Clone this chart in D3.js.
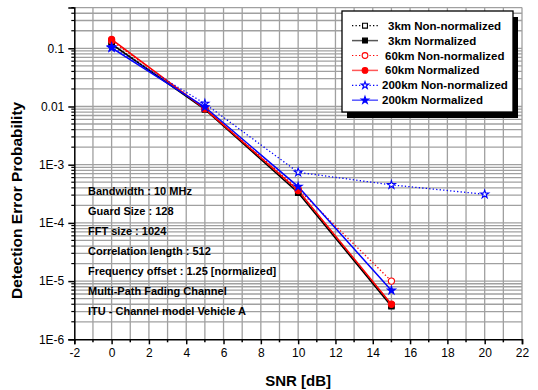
<!DOCTYPE html>
<html>
<head>
<meta charset="utf-8">
<script src="https://cdn.jsdelivr.net/npm/d3@7/dist/d3.min.js"></script>
<style>
  html, body { margin: 0; padding: 0; background: #fff; }
  svg { display: block; font-family: "Liberation Sans", Arial, sans-serif; }
</style>
</head>
<body>
<svg id="chart" width="538" height="390"></svg>
<script>
// SNR points (dB) for each simulated case
const snr = [0, 5, 10, 15];
const snr200NN = [0, 5, 10, 15, 20];

// Detection error probability per case
const km3NonNorm   = [0.12, 0.0092, 3.5e-4, 3.8e-6];
const km3Norm      = [0.118, 0.0089, 3.3e-4, 3.7e-6];
const km60NonNorm  = [0.135, 0.0093, 3.8e-4, 1.0e-5];
const km60Norm     = [0.142, 0.0091, 3.6e-4, 4.0e-6];
const km200NonNorm = [0.105, 0.0112, 7.4e-4, 4.5e-4, 3.1e-4];
const km200Norm    = [0.102, 0.0098, 4.2e-4, 6.9e-6];

const seriesNames = [
  "3km Non-normalized", "3km Normalized",
  "60km Non-normalized", "60km Normalized",
  "200km Non-normalized", "200km Normalized"
];

const xTicks = [-2, 0, 2, 4, 6, 8, 10, 12, 14, 16, 18, 20, 22];
const yTicks = [1e-6, 1e-5, 1e-4, 1e-3, 0.01, 0.1];
const yTickLabels = ["1E-6", "1E-5", "1E-4", "1E-3", "0.01", "0.1"];

const notes = [
  "Bandwidth : 10 MHz",
  "Guard Size : 128",
  "FFT size : 1024",
  "Correlation length : 512",
  "Frequency offset : 1.25 [normalized]",
  "Multi-Path Fading Channel",
  "ITU - Channel model Vehicle A"
];

const series = [
  { name: seriesNames[0], x: snr, y: km3NonNorm, color: "#000", dotted: true,  shape: d3.symbolSquare, filled: false },
  { name: seriesNames[1], x: snr, y: km3Norm,    color: "#000", dotted: false, shape: d3.symbolSquare, filled: true },
  { name: seriesNames[2], x: snr, y: km60NonNorm, color: "#ff0000", dotted: true,  shape: d3.symbolCircle, filled: false },
  { name: seriesNames[3], x: snr, y: km60Norm,    color: "#ff0000", dotted: false, shape: d3.symbolCircle, filled: true },
  { name: seriesNames[4], x: snr200NN, y: km200NonNorm, color: "#0000ff", dotted: true,  shape: d3.symbolStar, filled: false },
  { name: seriesNames[5], x: snr, y: km200Norm,    color: "#0000ff", dotted: false, shape: d3.symbolStar, filled: true }
];

const svg = d3.select("#chart");
const plotL = 74.3, plotR = 522, plotT = 7.6, plotB = 339.3;

const x = d3.scaleLinear().domain([-2, 22]).range([plotL, plotR]);
const y = d3.scaleLog().domain([1e-6, 0.5]).range([plotB, plotT]);

// grid
const gridColor = "#a0a0a0";
const g = svg.append("g");
const xMinor = d3.range(-1, 23, 1);
g.selectAll(".vg").data(xMinor).join("line")
  .attr("x1", d => x(d)).attr("x2", d => x(d))
  .attr("y1", plotT).attr("y2", plotB)
  .attr("stroke", gridColor).attr("stroke-width", 1.3);

const yMinor = [];
for (let e = -6; e <= -1; e++) {
  for (let m = 1; m <= 9; m++) {
    const v = m * Math.pow(10, e);
    if (v <= 0.5 + 1e-12 && v > 1e-6) yMinor.push(v);
  }
}
g.selectAll(".hg").data(yMinor).join("line")
  .attr("x1", plotL).attr("x2", plotR)
  .attr("y1", d => y(d)).attr("y2", d => y(d))
  .attr("stroke", gridColor).attr("stroke-width", 1.3);

// axes
const xAxis = d3.axisBottom(x).tickValues(xTicks).tickSize(5).tickPadding(4)
  .tickFormat(d => String(d));
const xa = svg.append("g").attr("transform", `translate(0,${plotB})`).call(xAxis);
xa.select(".domain").attr("stroke", "#000").attr("stroke-width", 1.5);
xa.selectAll(".tick line").attr("stroke", "#000").attr("stroke-width", 1.5);
xa.selectAll(".tick text").attr("font-size", 12).attr("fill", "#000")
  .attr("font-family", "Liberation Sans, Arial, sans-serif");
const xMinorOnly = xMinor.filter(v => v % 2 !== 0);
xa.selectAll(".mt").data(xMinorOnly).join("line")
  .attr("x1", d => x(d)).attr("x2", d => x(d)).attr("y1", 0).attr("y2", 3)
  .attr("stroke", "#000").attr("stroke-width", 1.5);

const yAxis = d3.axisLeft(y).tickValues(yTicks).tickSize(6).tickPadding(4)
  .tickFormat((d, i) => yTickLabels[i]);
const ya = svg.append("g").attr("transform", `translate(${plotL},0)`).call(yAxis);
ya.select(".domain").attr("stroke", "#000").attr("stroke-width", 1.5);
ya.selectAll(".tick line").attr("stroke", "#000").attr("stroke-width", 1.5);
ya.selectAll(".tick text").attr("font-size", 12).attr("fill", "#000")
  .attr("font-family", "Liberation Sans, Arial, sans-serif");
ya.selectAll(".mt").data(yMinor.filter(v => !yTicks.some(t => Math.abs(t - v) / v < 1e-9))).join("line")
  .attr("x1", 0).attr("x2", -3).attr("y1", d => y(d)).attr("y2", d => y(d))
  .attr("stroke", "#000").attr("stroke-width", 1.2);

// axis titles
svg.append("text").attr("x", (plotL + plotR) / 2).attr("y", 386)
  .attr("text-anchor", "middle").attr("font-size", 15).attr("font-weight", "bold")
  .text("SNR [dB]");
svg.append("text").attr("transform", `translate(22,${(plotT + plotB) / 2 + 27}) rotate(-90)`)
  .attr("text-anchor", "middle").attr("font-size", 15.5).attr("font-weight", "bold")
  .text("Detection Error Probability");

// annotation block
svg.append("g").selectAll("text").data(notes).join("text")
  .attr("x", 88).attr("y", (d, i) => 195 + i * 20)
  .attr("font-size", 11).attr("font-weight", "bold").text(d => d);

// series
const line = d3.line();
const plot = svg.append("g");
series.forEach(s => {
  const pts = s.x.map((v, i) => [x(v), y(s.y[i])]);
  plot.append("path").attr("d", line(pts)).attr("fill", "none")
    .attr("stroke", s.color).attr("stroke-width", s.dotted ? 1.3 : 1.5)
    .attr("stroke-dasharray", s.dotted ? "1.3,2.2" : null);
});
const markerSize = shape => shape === d3.symbolStar ? 20 : shape === d3.symbolCircle ? 30 : 28;
series.forEach(s => {
  const sym = d3.symbol().type(s.shape).size(markerSize(s.shape));
  plot.selectAll(null).data(s.x.map((v, i) => [x(v), y(s.y[i])])).join("path")
    .attr("transform", d => `translate(${d[0]},${d[1]})`)
    .attr("d", sym)
    .attr("fill", s.filled ? s.color : "#fff")
    .attr("stroke", s.color).attr("stroke-width", 1.1);
});

// legend
const lx = 342, ly = 11, lw = 171, lh = 101;
const leg = svg.append("g");
leg.append("rect").attr("x", lx + 5).attr("y", ly + 6).attr("width", lw).attr("height", lh).attr("fill", "#000");
leg.append("rect").attr("x", lx).attr("y", ly).attr("width", lw).attr("height", lh)
  .attr("fill", "#fff").attr("stroke", "#000").attr("stroke-width", 1.3);
const textX = [388, 388, 385, 385, 382, 382];
series.forEach((s, i) => {
  const cy = 25.7 + i * 14.9;
  leg.append("line").attr("x1", 352).attr("x2", 378).attr("y1", cy).attr("y2", cy)
    .attr("stroke", s.color).attr("stroke-width", s.dotted ? 1.2 : 1.5)
    .attr("stroke-dasharray", s.dotted ? "1.3,2.2" : null)
    .attr("opacity", s.dotted ? 1 : 0.65);
  leg.append("path").attr("transform", `translate(365,${cy})`)
    .attr("d", d3.symbol().type(s.shape).size(markerSize(s.shape) * 0.85))
    .attr("fill", s.filled ? s.color : "#fff").attr("stroke", s.color).attr("stroke-width", 1.1);
  leg.append("text").attr("x", textX[i]).attr("y", cy + 4)
    .attr("font-size", 11.5).attr("font-weight", "bold").text(s.name);
});
</script>
</body>
</html>
